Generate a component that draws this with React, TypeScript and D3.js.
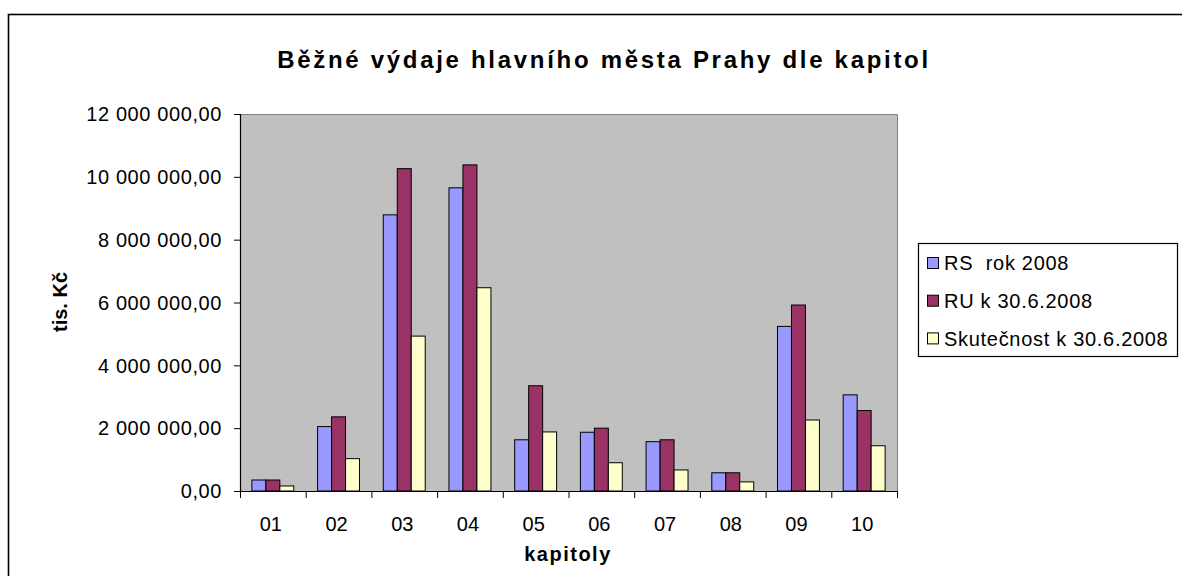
import React from "react";
import * as d3 from "d3";

const categories = ["01", "02", "03", "04", "05", "06", "07", "08", "09", "10"];
const seriesNames = ["RS  rok 2008", "RU k 30.6.2008", "Skutečnost k 30.6.2008"];
const rsValues = [350000, 2050000, 8790000, 9650000, 1630000, 1870000, 1570000, 580000, 5240000, 3060000];
const ruValues = [350000, 2360000, 10260000, 10380000, 3350000, 2000000, 1630000, 580000, 5920000, 2560000];
const skutValues = [160000, 1030000, 4930000, 6470000, 1880000, 900000, 670000, 290000, 2260000, 1440000];
const yTicks = [0, 2000000, 4000000, 6000000, 8000000, 10000000, 12000000];
const colors = ["#9999FF", "#993366", "#FFFFCC"];

const W = 1182;
const H = 576;
const plot = { left: 240, top: 114, right: 897, bottom: 491 };

function fmt(v: number): string {
  const s = d3.format(",.2f")(v);
  return s.replace(/,/g, " ").replace(".", ",");
}

export default function App() {
  const series = [rsValues, ruValues, skutValues];
  const x = d3.scaleBand<string>().domain(categories).range([plot.left, plot.right]).paddingInner(0).paddingOuter(0);
  const bw = x.bandwidth();
  const inner = d3.scaleBand<number>().domain([0, 1, 2]).range([0, bw]).paddingOuter(0.85).paddingInner(0);
  const y = d3.scaleLinear().domain([0, 12000000]).range([plot.bottom, plot.top]);
  const font = "'Liberation Sans', Arial, sans-serif";

  return (
    <svg width={W} height={H} style={{ position: "absolute", left: 0, top: 0, background: "#fff" }} fontFamily={font}>
      <rect x={8.5} y={14.5} width={W + 20} height={H + 20} fill="#fff" stroke="#000" strokeWidth={1.6} />
      <text x={604} y={68} textAnchor="middle" fontSize={24} fontWeight="bold" letterSpacing={2.7}>
        Běžné výdaje hlavního města Prahy dle kapitol
      </text>
      <rect x={plot.left} y={plot.top} width={plot.right - plot.left} height={plot.bottom - plot.top} fill="#C0C0C0" />
      <path d={`M${plot.left},${plot.top + 0.5}H${plot.right + 0.5}V${plot.bottom}`} fill="none" stroke="#808080" strokeWidth={1} />
      {series.map((vals, si) =>
        vals.map((v, ci) => {
          const bx = (x(categories[ci]) as number) + (inner(si) as number);
          return (
            <rect
              key={`${si}-${ci}`}
              x={bx}
              y={y(v)}
              width={inner.bandwidth()}
              height={plot.bottom - y(v)}
              fill={colors[si]}
              stroke="#000"
              strokeWidth={1}
            />
          );
        })
      )}
      {/* axes */}
      <line x1={plot.left + 0.5} y1={plot.top} x2={plot.left + 0.5} y2={plot.bottom} stroke="#000" strokeWidth={1.2} />
      <line x1={plot.left} y1={plot.bottom + 0.5} x2={plot.right + 0.5} y2={plot.bottom + 0.5} stroke="#000" strokeWidth={1.2} />
      {yTicks.map((t) => (
        <g key={t}>
          <line x1={plot.left - 6} x2={plot.left} y1={y(t) + 0.5} y2={y(t) + 0.5} stroke="#000" />
          <text x={222} y={y(t)} dy="0.36em" textAnchor="end" fontSize={20} letterSpacing={0.6} fill="#000">
            {fmt(t)}
          </text>
        </g>
      ))}
      {categories.concat(["end"]).map((c, i) => {
        const tx = plot.left + i * bw;
        return <line key={c} x1={tx + 0.5} x2={tx + 0.5} y1={plot.bottom} y2={plot.bottom + 7} stroke="#000" />;
      })}
      {categories.map((c) => (
        <text key={c} x={(x(c) as number) + bw / 2 - 2} y={531} textAnchor="middle" fontSize={20}>
          {c}
        </text>
      ))}
      <text x={568} y={561} textAnchor="middle" fontSize={20} fontWeight="bold" letterSpacing={1.5}>
        kapitoly
      </text>
      <text transform="translate(67,302) rotate(-90)" textAnchor="middle" fontSize={20} fontWeight="bold">
        tis. Kč
      </text>
      {/* legend */}
      <rect x={918.5} y={243.5} width={259} height={113} fill="#fff" stroke="#000" strokeWidth={1.2} />
      {seriesNames.map((n, i) => {
        const cy = 263 + i * 37.7;
        return (
          <g key={n}>
            <rect x={927.5} y={cy - 5.5} width={11} height={11} fill={colors[i]} stroke="#000" strokeWidth={1} />
            <text x={944} y={cy} dy="0.36em" fontSize={20} letterSpacing={0.7} style={{ whiteSpace: "pre" }}>
              {n}
            </text>
          </g>
        );
      })}
    </svg>
  );
}
